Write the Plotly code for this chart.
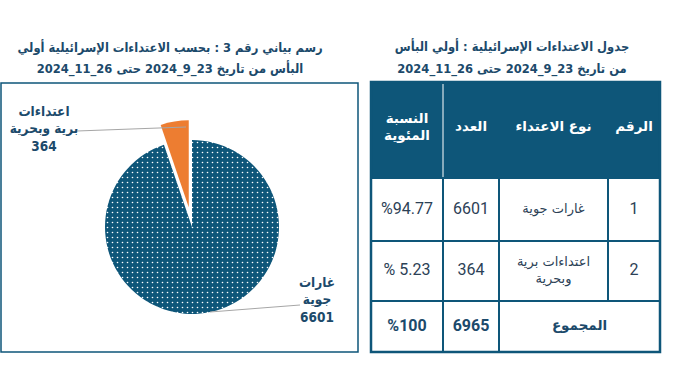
import plotly.graph_objects as go
import numpy as np

# ---------------- data ----------------
pie_labels = ["غارات<br>جوية", "اعتداءات<br>برية وبحرية"]
pie_values = [6601, 364]

col_headers = ["النسبة<br>المئوية", "العدد", "نوع الاعتداء", "الرقم"]  # visual left -> right
row_ids = ["1", "2"]
attack_types = ["غارات جوية", "اعتداءات برية<br>وبحرية"]
attack_counts = [6601, 364]
attack_pcts = ["%94.77", "% 5.23"]
total_label = "المجموع"
total_count = 6965
total_pct = "%100"

title_left = ["رسم بياني رقم 3 : بحسب الاعتداءات الإسرائيلية أولي",
              "البأس من تاريخ 23_9_2024 حتى 26_11_2024"]
title_right = ["جدول الاعتداءات الإسرائيلية : أولي البأس",
               "من تاريخ 23_9_2024 حتى 26_11_2024"]

# ---------------- style ----------------
W, H = 684, 383
BLUE = "#0e5679"
ORANGE = "#ed7d31"
TXT = "#1c4a6b"
BODY = "#2c4156"
AR = "DejaVu Sans"
ARC = "DejaVu Sans Condensed"
NUM = "Roboto"

fig = go.Figure()

# page-sized cartesian frame (1 unit = 1 px, y downwards) for text and table
fig.update_layout(
    xaxis=dict(domain=[0, 1], range=[0, W], visible=False, fixedrange=True),
    yaxis=dict(domain=[0, 1], range=[H, 0], visible=False, fixedrange=True),
)

# ---------------- pie ----------------
cx, cy, r, pull = 192, 227, 87, 0.23
half = r * (1 + pull)
fig.add_trace(go.Pie(
    labels=pie_labels, values=pie_values, sort=False,
    direction="clockwise", rotation=0,
    pull=[0, pull], textinfo="none", hoverinfo="label+value",
    marker=dict(colors=[BLUE, ORANGE], line=dict(width=0),
                pattern=dict(shape=[".", ""], fgcolor=["white", "white"],
                             bgcolor=[BLUE, ORANGE], size=5, solidity=0.08)),
    domain=dict(x=[(cx - half) / W, (cx + half) / W], y=[1 - (cy + half) / H, 1 - (cy - half) / H]),
    showlegend=False,
))

shapes = []

# left panel border
shapes.append(dict(type="rect", xref="x", yref="y", x0=1, x1=358, y0=83, y1=352,
                   line=dict(color=BLUE, width=1.5)))

# leader lines
shapes.append(dict(type="line", xref="x", yref="y", x0=77, y0=131, x1=186, y1=127,
                   line=dict(color="#a6a6a6", width=1)))
shapes.append(dict(type="line", xref="x", yref="y", x0=300, y0=305, x1=210, y1=312,
                   line=dict(color="#a6a6a6", width=1)))

# pie labels
fig.add_trace(go.Scatter(
    x=[317, 44], y=[301, 130], mode="text",
    text=["<b>%s<br>%d</b>" % (l, v) for l, v in zip(pie_labels, pie_values)],
    textfont=dict(family=ARC, size=13.5, color=TXT),
    hoverinfo="skip", showlegend=False))

# titles
fig.add_trace(go.Scatter(
    x=[170, 170, 512, 512], y=[49, 70, 48, 70], mode="text",
    text=["<b>%s</b>" % t for t in title_left + title_right],
    textfont=dict(family=ARC, size=12.8, color=TXT),
    hoverinfo="skip", showlegend=False))

# ---------------- table ----------------
tx0, ty0 = 371, 82
col_w = np.array([72, 56, 109, 52])
row_h = np.array([96, 63, 60, 51])
xb = tx0 + np.concatenate([[0], np.cumsum(col_w)])
yb = ty0 + np.concatenate([[0], np.cumsum(row_h)])
xc = (xb[:-1] + xb[1:]) / 2
yc = (yb[:-1] + yb[1:]) / 2

# header background
shapes.append(dict(type="rect", xref="x", yref="y", x0=xb[0], x1=xb[-1], y0=yb[0], y1=yb[1],
                   fillcolor=BLUE, line=dict(width=0), layer="below"))
shapes.append(dict(type="line", xref="x", yref="y", x0=xb[1], x1=xb[1], y0=yb[0] + 2, y1=yb[1],
                   line=dict(color="white", width=1)))
# body cells
for ri in (1, 2):
    for ci in range(4):
        shapes.append(dict(type="rect", xref="x", yref="y", x0=xb[ci], x1=xb[ci + 1],
                           y0=yb[ri], y1=yb[ri + 1], line=dict(color=BLUE, width=2)))
# total row: two single cells + one merged cell
for ci in (0, 1):
    shapes.append(dict(type="rect", xref="x", yref="y", x0=xb[ci], x1=xb[ci + 1],
                       y0=yb[3], y1=yb[4], line=dict(color=BLUE, width=2)))
shapes.append(dict(type="rect", xref="x", yref="y", x0=xb[2], x1=xb[4],
                   y0=yb[3], y1=yb[4], line=dict(color=BLUE, width=2)))
# outer border
shapes.append(dict(type="rect", xref="x", yref="y", x0=xb[0], x1=xb[-1], y0=yb[0], y1=yb[-1],
                   line=dict(color=BLUE, width=2.5)))

# header text
fig.add_trace(go.Scatter(x=list(xc), y=[yc[0] - 2] * 4, mode="text",
                         text=["<b>%s</b>" % h for h in col_headers],
                         textfont=dict(family=AR, size=13.5, color="white"),
                         hoverinfo="skip", showlegend=False))
# body: percent, count, row number
fig.add_trace(go.Scatter(x=[xc[0]] * 2 + [xc[1]] * 2 + [xc[3]] * 2,
                         y=[yc[1], yc[2]] * 3, mode="text",
                         text=attack_pcts + [str(v) for v in attack_counts] + row_ids,
                         textfont=dict(family=NUM, size=16, color=BODY),
                         hoverinfo="skip", showlegend=False))
# body: attack types (arabic)
fig.add_trace(go.Scatter(x=[xc[2]] * 2, y=[yc[1], yc[2]], mode="text",
                         text=attack_types,
                         textfont=dict(family=AR, size=13, color=BODY),
                         hoverinfo="skip", showlegend=False))
# totals
fig.add_trace(go.Scatter(x=[xc[0], xc[1]], y=[yc[3]] * 2, mode="text",
                         text=["<b>%s</b>" % total_pct, "<b>%d</b>" % total_count],
                         textfont=dict(family=NUM, size=16, color=TXT),
                         hoverinfo="skip", showlegend=False))
fig.add_trace(go.Scatter(x=[(xb[2] + xb[4]) / 2], y=[yc[3]], mode="text",
                         text=["<b>%s</b>" % total_label],
                         textfont=dict(family=AR, size=13.5, color=TXT),
                         hoverinfo="skip", showlegend=False))

fig.update_layout(width=W, height=H, margin=dict(l=0, r=0, t=0, b=0),
                  paper_bgcolor="white", plot_bgcolor="rgba(0,0,0,0)",
                  shapes=shapes, showlegend=False)

fig.write_html("out.html", post_script="document.body.style.margin='0';",
               config={"displayModeBar": False})
